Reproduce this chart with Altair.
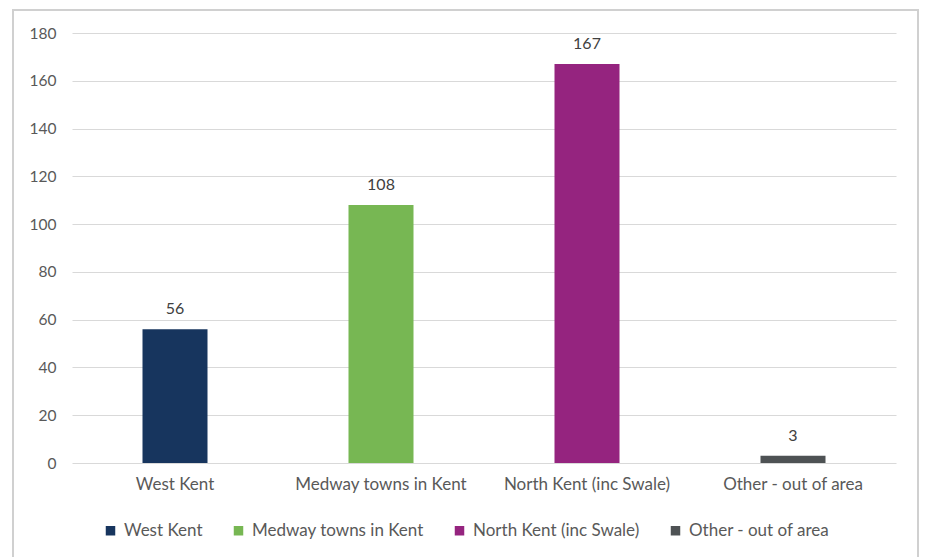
import altair as alt
import pandas as pd

# Responses by area
areas = ["West Kent", "Medway towns in Kent", "North Kent (inc Swale)", "Other - out of area"]
counts = [56, 108, 167, 3]
colors = ["#17355E", "#77B753", "#95247F", "#4E5254"]

df = pd.DataFrame({"area": areas, "count": counts})

FONT = "Lato"
TXT = "#595959"

x_enc = alt.X("area:N", sort=areas, title=None,
              scale=alt.Scale(paddingInner=0, paddingOuter=0),
              axis=alt.Axis(labelAngle=0, labelFontSize=17, labelColor=TXT, labelFont=FONT,
                            ticks=False, domain=False, labelPadding=13, grid=False))
y_enc = alt.Y("count:Q", title=None,
              scale=alt.Scale(domain=[0, 180], nice=False),
              axis=alt.Axis(values=list(range(0, 181, 20)), labelFontSize=15.5, labelColor=TXT,
                            labelFont=FONT, ticks=False, domain=False, labelPadding=16,
                            gridColor="#d9d9d9", gridWidth=1))

bars = alt.Chart(df).mark_bar(size=65).encode(
    x=x_enc,
    y=y_enc,
    color=alt.Color("area:N", sort=areas,
                    scale=alt.Scale(domain=areas, range=colors),
                    legend=alt.Legend(title=None, orient="none", direction="horizontal",
                                      legendX=30, legendY=489,
                                      symbolType="square", symbolSize=90, symbolStrokeWidth=0,
                                      labelFontSize=17, labelColor=TXT, labelFont=FONT,
                                      labelLimit=0, labelOffset=5, columnPadding=27)),
)

labels = alt.Chart(df).mark_text(baseline="bottom", dy=-12, fontSize=16, color="#404040",
                                 font=FONT).encode(
    x=alt.X("area:N", sort=areas),
    y=alt.Y("count:Q"),
    text=alt.Text("count:Q"),
)

# Light outer frame around the chart
frame = alt.Chart(df).mark_rect(fill=None, stroke="#d0d0d0", strokeWidth=2).encode(
    x=alt.value(-59), x2=alt.value(846), y=alt.value(-23), y2=alt.value(620)
)

chart = alt.layer(frame, bars, labels).properties(
    width=824, height=430,
    autosize=alt.AutoSizeParams(type="none"),
    padding={"left": 72, "right": 29, "top": 33, "bottom": 94},
    background="white",
).configure_view(stroke=None)

chart.save("out.html", embed_options={"renderer": "svg", "actions": False})
